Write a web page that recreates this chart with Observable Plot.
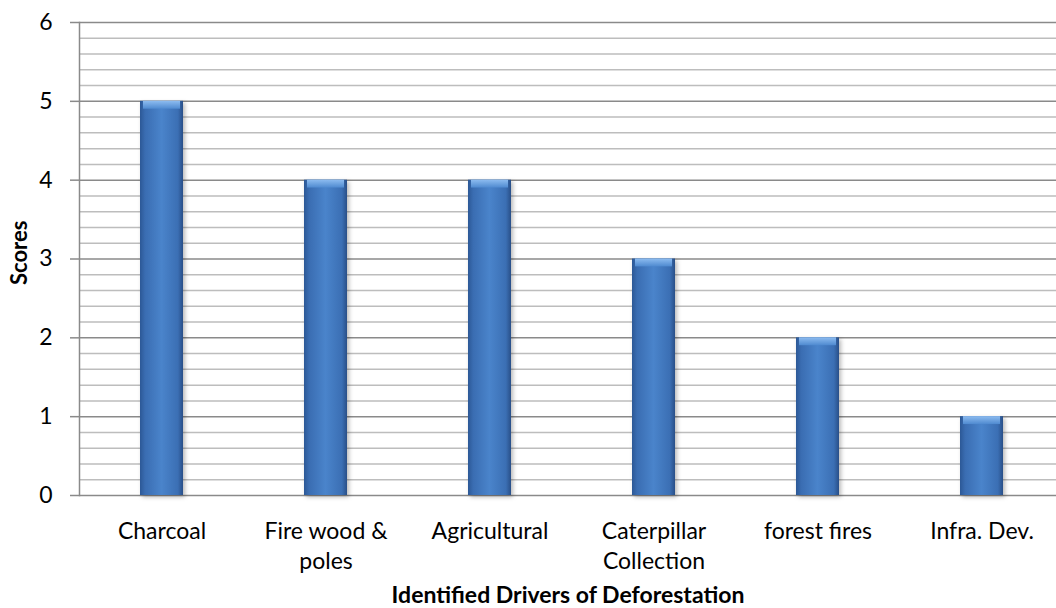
<!DOCTYPE html>
<html>
<head>
<meta charset="utf-8">
<script src="https://cdn.jsdelivr.net/npm/d3@7"></script>
<script src="https://cdn.jsdelivr.net/npm/@observablehq/plot@0.6"></script>
<style>
  html, body { margin: 0; padding: 0; background: #fff; }
  #chart svg { display: block; }
  .bars { filter: drop-shadow(2px 2px 2px rgba(0,0,0,0.28)); }
</style>
</head>
<body>
<div id="chart"></div>
<script>
// Drivers of deforestation and their scores
const categories = ["Charcoal", "Fire wood & poles", "Agricultural", "Caterpillar Collection", "forest fires", "Infra. Dev."];
const tickLabels = ["Charcoal", "Fire wood &\npoles", "Agricultural", "Caterpillar\nCollection", "forest fires", "Infra. Dev."];
const scores = [5, 4, 4, 3, 2, 1];
const yTicks = [0, 1, 2, 3, 4, 5, 6];
const minorTicks = d3.range(0, 30).map(i => i / 5).filter(v => !Number.isInteger(v));

const data = categories.map((c, i) => ({category: c, score: scores[i]}));
const labelOf = new Map(categories.map((c, i) => [c, tickLabels[i]]));

// gradient definitions for the shaded bars
const defs = () => {
  const g = d3.create("svg:defs");
  const body = g.append("linearGradient").attr("id", "barBody").attr("x1", "0").attr("x2", "1").attr("y1", "0").attr("y2", "0");
  [["0%", "#2c5896"], ["12%", "#3a6db2"], ["50%", "#4a84cb"], ["88%", "#3b6fb4"], ["100%", "#294f88"]]
    .forEach(([o, c]) => body.append("stop").attr("offset", o).attr("stop-color", c));
  const cap = g.append("linearGradient").attr("id", "barCap").attr("x1", "0").attr("x2", "0").attr("y1", "0").attr("y2", "1");
  [["0%", "#8dbcf0"], ["100%", "#4f8ad0"]]
    .forEach(([o, c]) => cap.append("stop").attr("offset", o).attr("stop-color", c));
  return g.node();
};

const chart = Plot.plot({
  width: 1056,
  height: 608,
  marginLeft: 79,
  marginRight: 0,
  marginTop: 22,
  marginBottom: 113,
  style: {fontFamily: "Lato", fontSize: "23px", color: "#000", background: "#fff"},
  x: {domain: categories, range: [79, 1065], paddingInner: 0.735, paddingOuter: 0.3675},
  y: {domain: [0, 6], range: [495, 22]},
  marks: [
    defs,
    Plot.ruleY(minorTicks, {stroke: "#bdbdbd", strokeWidth: 1.5}),
    Plot.ruleY(yTicks, {stroke: "#8a8a8a", strokeWidth: 1.5}),
    Plot.frame({anchor: "left", stroke: "#8a8a8a", strokeWidth: 1.5}),
    Plot.axisY({ticks: yTicks, tickSize: 9, tickPadding: 18, tickFormat: d3.format("d"), stroke: "#8a8a8a", strokeWidth: 1.5, fontSize: 23, label: null}),
    Plot.axisX({tickSize: 0, tickPadding: 22, tickFormat: d => labelOf.get(d), fontSize: 23, lineHeight: 1.3, label: null}),
    Plot.barY(data, {x: "category", y: "score", fill: "url(#barBody)", className: "bars"}),
    Plot.barY(data, {x: "category", y1: d => d.score - 0.1, y2: "score", fill: "url(#barCap)", insetLeft: 3, insetRight: 3}),
    Plot.text(["Identified Drivers of Deforestation"], {frameAnchor: "bottom", dy: 107, fontSize: 23, fontWeight: "bold", lineAnchor: "bottom"}),
    Plot.text(["Scores"], {frameAnchor: "left", dx: -60, dy: 26, rotate: -90, fontSize: 22, fontWeight: "bold"})
  ]
});

document.getElementById("chart").append(chart);
</script>
</body>
</html>
